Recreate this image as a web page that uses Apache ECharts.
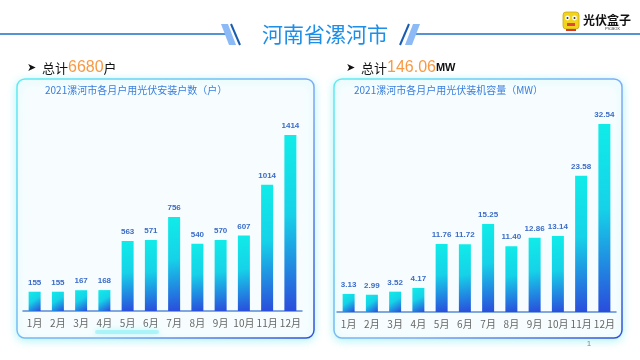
<!DOCTYPE html>
<html>
<head>
<meta charset="utf-8">
<script src="https://cdn.jsdelivr.net/npm/echarts@6/dist/echarts.min.js"></script>
<style>
html,body{margin:0;padding:0;background:#fff;}
#c{width:640px;height:360px;}
</style>
</head>
<body>
<div id="c"></div>
<script>
const months = ['1月','2月','3月','4月','5月','6月','7月','8月','9月','10月','11月','12月'];
const households = [155,155,167,168,563,571,756,540,570,607,1014,1414];
const capacity = [3.13,2.99,3.52,4.17,11.76,11.72,15.25,11.40,12.86,13.14,23.58,32.54];
const pageTitle = '河南省漯河市';
const totalHouseholds = '6680';
const totalCapacity = '146.06';
const leftTitle = '2021漯河市各月户用光伏安装户数（户）';
const rightTitle = '2021漯河市各月户用光伏装机容量（MW）';

const chart = echarts.init(document.getElementById('c'), null, {renderer:'canvas'});
const FONT = '"Noto Sans CJK SC","Noto Sans",sans-serif';

function barGrad(){
  return new echarts.graphic.LinearGradient(0,0,1,1,[
    {offset:0,color:'#10ece8'},
    {offset:0.45,color:'#16d2e8'},
    {offset:1,color:'#2a4cdc'}
  ]);
}
function panel(x,y,w,h){
  return {
    type:'rect', shape:{x:x,y:y,width:w,height:h,r:8}, z:0,
    style:{
      fill:'#f7fdff', lineWidth:1.5,
      stroke:new echarts.graphic.LinearGradient(0,0,1,1,[
        {offset:0,color:'#5fecf2'},{offset:0.6,color:'#7ea8f4'},{offset:1,color:'#2f50d8'}]),
      shadowBlur:8, shadowColor:'rgba(90,230,240,0.45)', shadowOffsetY:2
    }
  };
}
function xAxis(gi){
  return {
    type:'category', gridIndex:gi, data:months,
    axisLine:{lineStyle:{color:'#5a8ad4',width:1.5}},
    axisTick:{show:false},
    axisLabel:{color:'#666',fontSize:10,margin:7,fontFamily:FONT,interval:0}
  };
}
function yAxis(gi,max){
  return {type:'value', gridIndex:gi, min:0, max:max, show:false, splitLine:{show:false}};
}
function series(gi,data){
  return {
    type:'bar', xAxisIndex:gi, yAxisIndex:gi, data:data, barWidth:12,
    itemStyle:{color:barGrad()},
    label:{show:true, position:'top', distance:5, color:'#3b6cc8', fontSize:8, fontWeight:'bold',
      fontFamily:'"Liberation Sans",Arial,sans-serif',
      formatter: gi===1 ? (p)=>p.value.toFixed(2) : '{c}'}
  };
}

const graphics = [
  // header lines
  {type:'line', shape:{x1:0,y1:34,x2:226,y2:34}, style:{stroke:'#1c6fc6',lineWidth:1.5}},
  {type:'line', shape:{x1:414,y1:34,x2:640,y2:34}, style:{stroke:'#1c6fc6',lineWidth:1.5}},
  {type:'polygon', shape:{points:[[221,24],[228,24],[236,45],[229,45]]}, style:{fill:'#8cbaf6'}},
  {type:'line', shape:{x1:231,y1:24,x2:240,y2:45}, style:{stroke:'#1a5cb0',lineWidth:2}},
  {type:'line', shape:{x1:400,y1:45,x2:409,y2:24}, style:{stroke:'#1a5cb0',lineWidth:2}},
  {type:'polygon', shape:{points:[[405,45],[412,45],[420,24],[413,24]]}, style:{fill:'#8cbaf6'}},
  {type:'text', x:325, y:34, style:{text:pageTitle, fill:'#1e8fe8', font:'21px '+FONT, textAlign:'center', textVerticalAlign:'middle'}},
  // logo
  {type:'rect', shape:{x:563,y:12,width:16,height:17,r:3}, style:{fill:'#f3d41c', stroke:'#c9a810', lineWidth:0.8}},
  {type:'circle', shape:{cx:567.5,cy:18,r:2.4}, style:{fill:'#fff'}},
  {type:'circle', shape:{cx:574.5,cy:18,r:2.4}, style:{fill:'#fff'}},
  {type:'circle', shape:{cx:567.5,cy:18,r:1}, style:{fill:'#333'}},
  {type:'circle', shape:{cx:574.5,cy:18,r:1}, style:{fill:'#333'}},
  {type:'rect', shape:{x:567,y:23,width:8,height:3}, style:{fill:'#e0463a'}},
  {type:'rect', shape:{x:566,y:29,width:10,height:2}, style:{fill:'#d03a30'}},
  {type:'text', x:583, y:20, style:{text:'光伏盒子', fill:'#111', font:'bold 12px '+FONT, textVerticalAlign:'middle'}},
  {type:'text', x:620, y:29, style:{text:'PV-BOX', fill:'#333', font:'4px sans-serif', textAlign:'right', textVerticalAlign:'middle'}},
  // totals
  {type:'text', x:27, y:68, style:{text:'➤', fill:'#111', font:'11px "DejaVu Sans"', textVerticalAlign:'middle'}},
  {type:'text', x:42, y:68, style:{
    text:'{a|总计}{b|'+totalHouseholds+'}{a|户}', textVerticalAlign:'middle',
    rich:{a:{fill:'#111',font:'13px '+FONT}, b:{fill:'#f89a44',font:'16px "Liberation Sans",sans-serif'}}}},
  {type:'text', x:346, y:68, style:{text:'➤', fill:'#111', font:'11px "DejaVu Sans"', textVerticalAlign:'middle'}},
  {type:'text', x:361, y:68, style:{
    text:'{a|总计}{b|'+totalCapacity+'}{c|MW}', textVerticalAlign:'middle',
    rich:{a:{fill:'#111',font:'13px '+FONT}, b:{fill:'#f89a44',font:'16px "Liberation Sans",sans-serif'}, c:{fill:'#111',font:'bold 11px "Liberation Sans",sans-serif'}}}},
  // panels
  panel(17,79,297,259),
  panel(334,79,288,259),
  {type:'rect', shape:{x:95,y:330,width:64,height:4,r:2}, z:1, style:{fill:'rgba(140,240,245,0.6)', shadowBlur:6, shadowColor:'rgba(120,240,245,0.9)'}},
  {type:'text', x:45, y:90, z:2, style:{text:leftTitle, fill:'#3a7edc', font:'10px '+FONT, textVerticalAlign:'middle'}},
  {type:'text', x:354, y:90, z:2, style:{text:rightTitle, fill:'#3a7edc', font:'10px '+FONT, textVerticalAlign:'middle'}},
  {type:'text', x:589, y:344, style:{text:'1', fill:'#888', font:'8px sans-serif', textAlign:'center', textVerticalAlign:'middle'}}
];

chart.setOption({
  animation:false,
  backgroundColor:'#ffffff',
  graphic:{elements:graphics},
  grid:[
    {left:23, width:279, top:100, bottom:49},
    {left:337, width:279, top:104, bottom:48}
  ],
  xAxis:[xAxis(0), xAxis(1)],
  yAxis:[yAxis(0,1695), yAxis(1,36)],
  series:[series(0,households), series(1,capacity)]
});
</script>
</body>
</html>
